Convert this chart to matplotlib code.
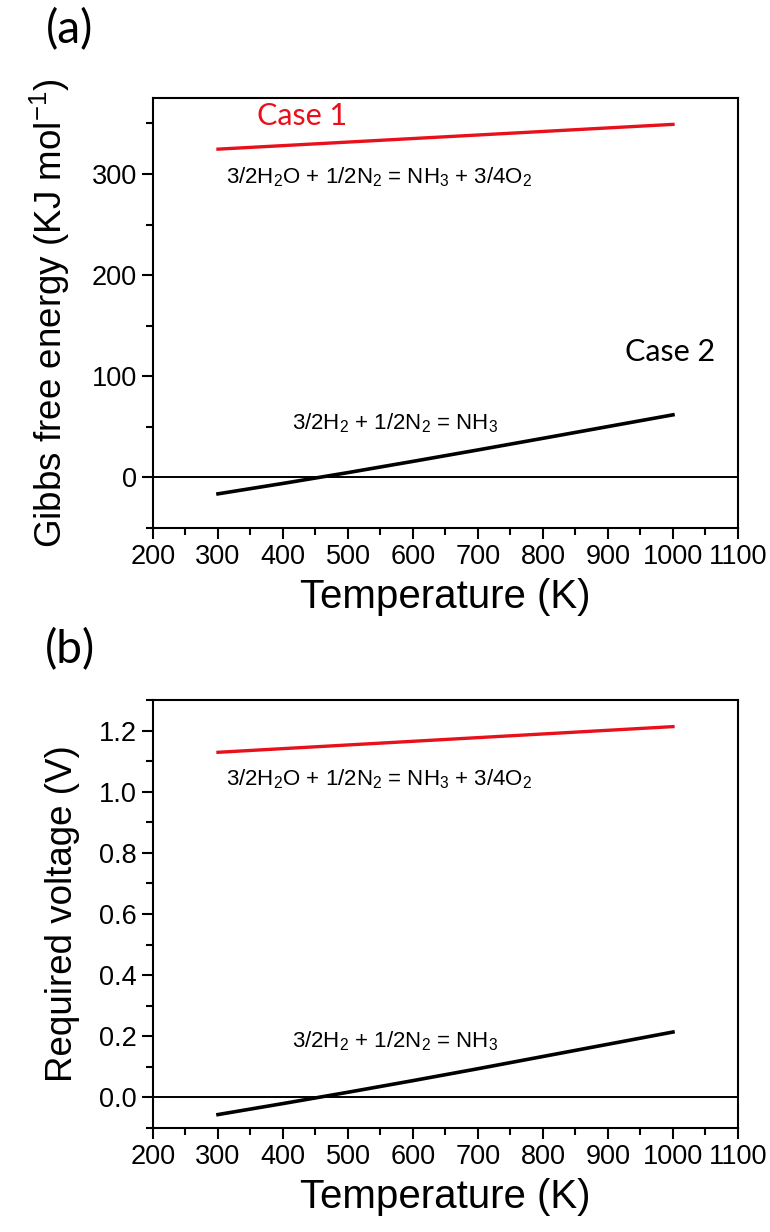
import matplotlib
matplotlib.use('Agg')
from matplotlib import pyplot as plt
from matplotlib.ticker import MultipleLocator

plt.rcParams['font.family'] = ['Liberation Sans', 'DejaVu Sans']
plt.rcParams['mathtext.fontset'] = 'custom'
plt.rcParams['mathtext.rm'] = 'Liberation Sans'
plt.rcParams['mathtext.it'] = 'Liberation Sans:italic'

temperature = [300, 400, 500, 600, 700, 800, 900, 1000]
gibbs_case1 = [324.5, 328.0, 331.5, 335.0, 338.5, 342.0, 345.5, 349.0]
gibbs_case2 = [-16.2, -5.9, 4.8, 15.9, 27.2, 38.7, 50.3, 61.9]
volt_case1 = [1.129, 1.141, 1.153, 1.165, 1.177, 1.189, 1.201, 1.213]
volt_case2 = [-0.056, -0.020, 0.017, 0.055, 0.094, 0.134, 0.174, 0.214]

eq1 = r'3/2H$_2$O + 1/2N$_2$ = NH$_3$ + 3/4O$_2$'
eq2 = r'3/2H$_2$ + 1/2N$_2$ = NH$_3$'

red = '#e8101a'
xlabel_fs = 29
ylabel_fs = 26.5
tick_fs = 19.5
eq_fs = 16
calibri = ['Lato', 'DejaVu Sans']

fig = plt.figure(figsize=(7.7, 12.32), dpi=100)
ax1 = fig.add_axes([0.1987, 0.5714, 0.7597, 0.349])
ax2 = fig.add_axes([0.1987, 0.0844, 0.7597, 0.3474])


def style(ax):
    ax.set_xlim(200, 1100)
    ax.xaxis.set_major_locator(MultipleLocator(100))
    ax.xaxis.set_minor_locator(MultipleLocator(50))
    ax.tick_params(which='both', direction='out', width=1.5, labelsize=tick_fs,
                   top=False, right=False)
    ax.tick_params(which='major', length=8)
    ax.tick_params(which='minor', length=5)
    for s in ax.spines.values():
        s.set_linewidth(1.5)
    ax.axhline(0, color='black', lw=1.4, zorder=1)
    ax.set_xlabel('Temperature (K)', fontsize=xlabel_fs, labelpad=6)


# (a) Gibbs free energy
ax1.plot(temperature, gibbs_case1, color=red, lw=2.4)
ax1.plot(temperature, gibbs_case2, color='black', lw=2.6)
style(ax1)
ax1.set_ylim(-50, 375)
ax1.yaxis.set_major_locator(MultipleLocator(100))
ax1.yaxis.set_minor_locator(MultipleLocator(50))
ax1.set_ylabel(r'Gibbs free energy (KJ mol$^{-1}$)', fontsize=ylabel_fs, labelpad=14)
ax1.text(430, 357, 'Case 1', color=red, fontsize=22, family=calibri, ha='center', va='center')
ax1.text(995, 124, 'Case 2', color='black', fontsize=22, family=calibri, ha='center', va='center')
ax1.text(312, 297, eq1, fontsize=eq_fs, ha='left', va='center')
ax1.text(414, 54, eq2, fontsize=eq_fs, ha='left', va='center')

# (b) required voltage
ax2.plot(temperature, volt_case1, color=red, lw=2.4)
ax2.plot(temperature, volt_case2, color='black', lw=2.6)
style(ax2)
ax2.set_ylim(-0.1, 1.3)
ax2.yaxis.set_major_locator(MultipleLocator(0.2))
ax2.yaxis.set_minor_locator(MultipleLocator(0.1))
ax2.yaxis.set_major_formatter(plt.FormatStrFormatter('%.1f'))
ax2.set_ylabel('Required voltage (V)', fontsize=ylabel_fs, labelpad=14)
ax2.text(312, 1.04, eq1, fontsize=eq_fs, ha='left', va='center')
ax2.text(414, 0.185, eq2, fontsize=eq_fs, ha='left', va='center')

fig.text(70 / 770, 1 - 30 / 1232, '(a)', fontsize=33, family=calibri, ha='center', va='center')
fig.text(70 / 770, 1 - 650 / 1232, '(b)', fontsize=33, family=calibri, ha='center', va='center')

fig.savefig('out.png', dpi=100, facecolor='white')
